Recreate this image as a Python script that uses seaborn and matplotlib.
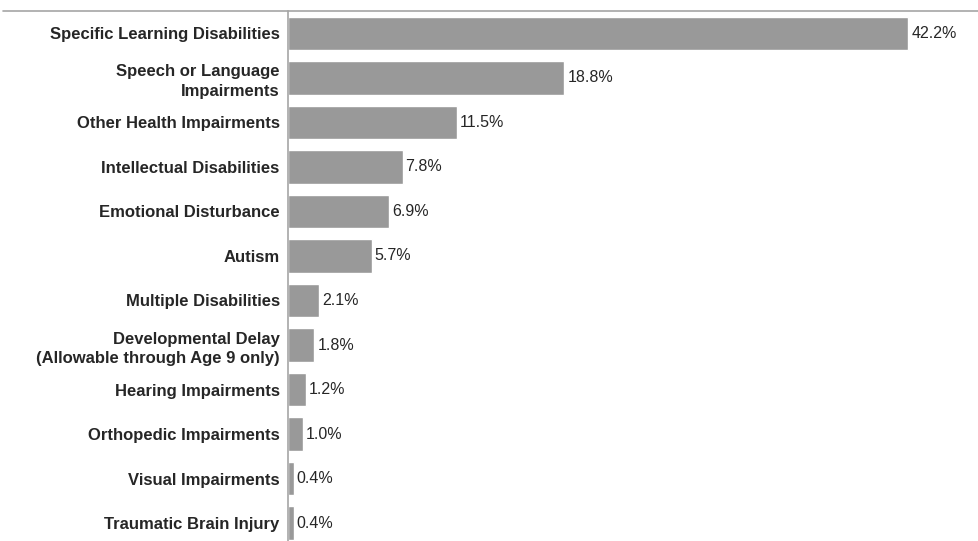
import matplotlib
matplotlib.use("Agg")
import matplotlib.pyplot as plt
import seaborn as sns
import pandas as pd
from matplotlib.lines import Line2D

categories = [
    "Specific Learning Disabilities",
    "Speech or Language\nImpairments",
    "Other Health Impairments",
    "Intellectual Disabilities",
    "Emotional Disturbance",
    "Autism",
    "Multiple Disabilities",
    "Developmental Delay\n(Allowable through Age 9 only)",
    "Hearing Impairments",
    "Orthopedic Impairments",
    "Visual Impairments",
    "Traumatic Brain Injury",
]
percents = [42.2, 18.8, 11.5, 7.8, 6.9, 5.7, 2.1, 1.8, 1.2, 1.0, 0.4, 0.4]

df = pd.DataFrame({"category": categories, "percent": percents})

sns.set_style("white")
plt.rcParams["font.family"] = ["Liberation Sans", "DejaVu Sans"]

fig = plt.figure(figsize=(9.79, 5.41), dpi=100)
ax = fig.add_axes([288 / 979, 0.0, 1 - 288 / 979, 1 - 11 / 541])

sns.barplot(data=df, x="percent", y="category", color="#999999",
            saturation=1, width=0.75, ax=ax)

for i, v in enumerate(percents):
    ax.text(v + 0.2, i, f"{v:.1f}%", va="center", ha="left", fontsize=11.5)

ax.set_xlim(0, 47)
ax.set_ylim(11.4, -0.5)
ax.set_xlabel("")
ax.set_ylabel("")
ax.set_xticks([])
ax.tick_params(axis="y", length=0, pad=6)
for lab in ax.get_yticklabels():
    lab.set_fontweight("bold")
    lab.set_fontsize(12)
    lab.set_horizontalalignment("right")
    lab.set_multialignment("right")
    lab.set_linespacing(1.35)

for s in ["top", "right", "bottom"]:
    ax.spines[s].set_visible(False)
ax.spines["left"].set_color("#a6a6a6")
ax.spines["left"].set_linewidth(1.2)

fig.add_artist(Line2D([3 / 979, 1.0], [1 - 11 / 541, 1 - 11 / 541],
                      color="#a6a6a6", linewidth=1.2, transform=fig.transFigure))

fig.savefig("out.png", dpi=100)
